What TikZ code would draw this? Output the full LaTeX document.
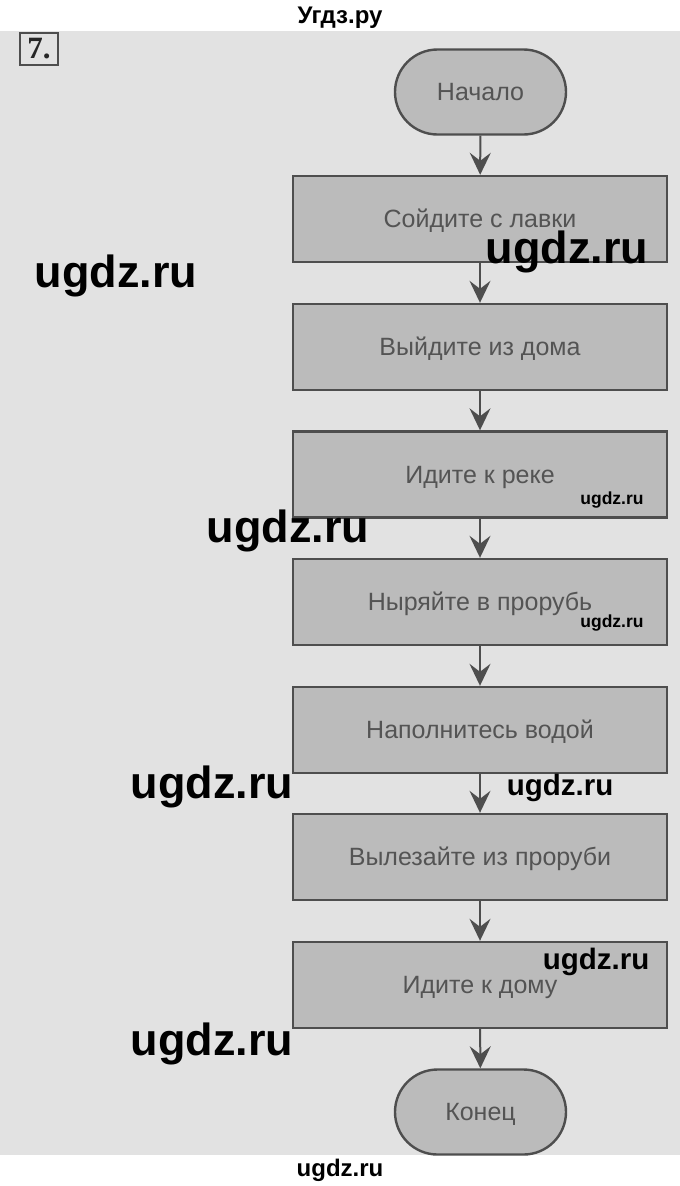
\documentclass[tikz,border=0pt]{standalone}
\usepackage{fontspec}
\newfontfamily\arialf{Liberation Sans}
\newfontfamily\serifb{Liberation Serif}
\usetikzlibrary{arrows.meta,shapes.misc}
\definecolor{bg}{HTML}{E2E2E2}
\definecolor{boxfill}{HTML}{BBBBBB}
\definecolor{edge}{HTML}{4E4E4E}
\definecolor{txt}{HTML}{545454}
\begin{document}
\begin{tikzpicture}[x=1pt,y=-1pt,
  stepbox/.style={draw=edge, line width=2.4pt, fill=boxfill, minimum width=374pt, minimum height=86pt, inner sep=0pt, text height=17pt, text depth=0pt, font=\arialf\fontsize{25}{25}\selectfont, text=txt},
  term/.style={rounded rectangle, draw=edge, line width=2.4pt, fill=boxfill, minimum width=171pt, minimum height=85pt, inner sep=0pt, text height=17pt, text depth=0pt, font=\arialf\fontsize{25}{25}\selectfont, text=txt},
  flow/.style={draw=edge, line width=2pt, -{Stealth[length=22pt,width=21pt,inset=8pt]}},
  wmbig/.style={font=\arialf\bfseries\fontsize{45}{45}\selectfont, anchor=base, inner sep=0pt, text=black},
  wmmid/.style={font=\arialf\bfseries\fontsize{29.5}{29.5}\selectfont, anchor=base, inner sep=0pt, text=black},
  wmsmall/.style={font=\arialf\bfseries\fontsize{17.5}{17.5}\selectfont, anchor=base, inner sep=0pt, text=black},
  plainwm/.style={font=\arialf\bfseries\fontsize{24}{24}\selectfont, anchor=base, inner sep=0pt, text=black}
]
\useasboundingbox (0,0) rectangle (680,1186);
\fill[white] (0,0) rectangle (680,1186);
\fill[bg] (0,31) rectangle (680,1155);

\node[plainwm] (hdr) at (340,23) {Угдз.ру};
\node[draw=edge, line width=1.5pt, minimum width=38pt, minimum height=32pt, inner sep=0pt, font=\serifb\bfseries\fontsize{31}{31}\selectfont, text=black!85] (num) at (39,49) {7.};

\node[term] (start) at (480.5,92) {Начало};
\node[stepbox] (b1) at (480,219) {Сойдите с лавки};
\node[stepbox] (b2) at (480,347) {Выйдите из дома};
\node[stepbox] (b3) at (480,474.5) {Идите к реке};
\node[stepbox] (b4) at (480,602) {Ныряйте в прорубь};
\node[stepbox] (b5) at (480,730) {Наполнитесь водой};
\node[stepbox] (b6) at (480,857) {Вылезайте из проруби};
\node[stepbox] (b7) at (480,985) {Идите к дому};
\node[term] (end) at (480.5,1112) {Конец};

\draw[flow] (start) -- (b1);
\draw[flow] (b1) -- (b2);
\draw[flow] (b2) -- (b3);
\draw[flow] (b3) -- (b4);
\draw[flow] (b4) -- (b5);
\draw[flow] (b5) -- (b6);
\draw[flow] (b6) -- (b7);
\draw[flow] (b7) -- (end);

\node[wmbig] (w1) at (116,287) {ugdz.ru};
\node[wmbig] (w2) at (567,263) {ugdz.ru};
\node[wmsmall] (w3) at (612,504) {ugdz.ru};
\node[wmbig] (w4) at (288,542) {ugdz.ru};
\node[wmsmall] (w5) at (612,627) {ugdz.ru};
\node[wmbig] (w6) at (212,798) {ugdz.ru};
\node[wmmid] (w7) at (560,795) {ugdz.ru};
\node[wmmid] (w8) at (596,969) {ugdz.ru};
\node[wmbig] (w9) at (212,1055) {ugdz.ru};
\node[plainwm] (ftr) at (340,1176) {ugdz.ru};
\end{tikzpicture}
\end{document}
